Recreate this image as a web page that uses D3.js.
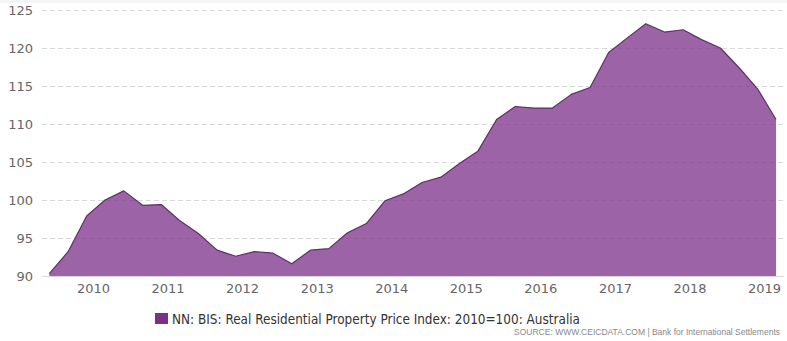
<!DOCTYPE html>
<html>
<head>
<meta charset="utf-8">
<script src="https://cdn.jsdelivr.net/npm/d3@7"></script>
<style>
  html, body { margin: 0; padding: 0; background: #fff; }
  svg { display: block; }
</style>
</head>
<body>
<svg id="chart" width="787" height="341"></svg>
<script>
// ---- data ----
const dates = [
  "2009-06","2009-09","2009-12",
  "2010-03","2010-06","2010-09","2010-12",
  "2011-03","2011-06","2011-09","2011-12",
  "2012-03","2012-06","2012-09","2012-12",
  "2013-03","2013-06","2013-09","2013-12",
  "2014-03","2014-06","2014-09","2014-12",
  "2015-03","2015-06","2015-09","2015-12",
  "2016-03","2016-06","2016-09","2016-12",
  "2017-03","2017-06","2017-09","2017-12",
  "2018-03","2018-06","2018-09","2018-12",
  "2019-03"
];
const values = [
  90.3, 93.2, 97.9,
  100.0, 101.2, 99.3, 99.4,
  97.3, 95.6, 93.4, 92.6,
  93.2, 93.0, 91.6, 93.4,
  93.6, 95.7, 96.9, 99.9,
  100.8, 102.3, 103.0, 104.8,
  106.4, 110.6, 112.3, 112.1,
  112.1, 113.9, 114.8, 119.4,
  121.3, 123.2, 122.1, 122.4,
  121.1, 120.0, 117.4, 114.6,
  110.6
];
const yTicks = [90, 95, 100, 105, 110, 115, 120, 125];
const xTickYears = [2010, 2011, 2012, 2013, 2014, 2015, 2016, 2017, 2018, 2019];
const seriesName = "NN: BIS: Real Residential Property Price Index: 2010=100: Australia";
const sourceText = "SOURCE: WWW.CEICDATA.COM | Bank for International Settlements";

// ---- setup ----
const svg = d3.select("#chart");
const parse = d3.timeParse("%Y-%m");
const data = dates.map((d, i) => ({ date: parse(d), value: values[i] }));

const x = d3.scaleTime()
  .domain([new Date(2010, 0, 1), new Date(2019, 0, 1)])
  .range([93, 764]);
const y = d3.scaleLinear().domain([90, 125]).range([276, 10]);

const seriesColor = "#7b2f88";
const font = "'DejaVu Sans', Verdana, sans-serif";

// top light band
svg.append("rect").attr("x", 0).attr("y", 0).attr("width", 787).attr("height", 3).attr("fill", "#f4f4f4");

// gridlines
const grid = svg.append("g");
grid.selectAll("line").data(yTicks).join("line")
  .attr("x1", 42).attr("x2", 784)
  .attr("y1", d => Math.round(y(d)) + 0.5).attr("y2", d => Math.round(y(d)) + 0.5)
  .attr("stroke", "#d9d9d9")
  .attr("stroke-width", 1)
  .attr("stroke-dasharray", d => d === 90 ? null : "5,3");

// y axis labels
const yAxis = d3.axisLeft(y).tickValues(yTicks).tickSize(0).tickPadding(0);
const gy = svg.append("g").attr("transform", "translate(33,0)").call(yAxis);
gy.select(".domain").remove();
gy.selectAll("text")
  .attr("font-family", font).attr("font-size", 13).attr("fill", "#666");

// x axis labels
const xAxis = d3.axisBottom(x)
  .tickValues(xTickYears.map(yr => new Date(yr, 0, 1)))
  .tickFormat(d3.timeFormat("%Y"))
  .tickSize(0).tickPadding(0);
const gx = svg.append("g").attr("transform", "translate(0,284)").call(xAxis);
gx.select(".domain").remove();
gx.selectAll("text")
  .attr("font-family", font).attr("font-size", 13).attr("fill", "#666");

// area
const area = d3.area()
  .x(d => x(d.date))
  .y0(y(90))
  .y1(d => y(d.value));
svg.append("path").datum(data)
  .attr("d", area)
  .attr("fill", seriesColor)
  .attr("fill-opacity", 0.75);

const line = d3.line().x(d => x(d.date)).y(d => y(d.value));
svg.append("path").datum(data)
  .attr("d", line)
  .attr("fill", "none")
  .attr("stroke", "#5f2f69")
  .attr("stroke-width", 1.2)
  .attr("stroke-linejoin", "round");

// legend
svg.append("rect")
  .attr("x", 155).attr("y", 313).attr("width", 13).attr("height", 11)
  .attr("fill", seriesColor);
svg.append("text")
  .attr("x", 172).attr("y", 324)
  .attr("font-family", "'Liberation Sans Narrow', 'DejaVu Sans Condensed', 'Open Sans', sans-serif")
  .attr("font-size", 14)
  .attr("fill", "#333")
  .attr("textLength", 408)
  .attr("lengthAdjust", "spacingAndGlyphs")
  .text(seriesName);

// source
svg.append("text")
  .attr("x", 780).attr("y", 335)
  .attr("text-anchor", "end")
  .attr("font-family", "'Liberation Sans', Arial, sans-serif")
  .attr("font-size", 8.5)
  .attr("fill", "#888")
  .text(sourceText);
</script>
</body>
</html>
